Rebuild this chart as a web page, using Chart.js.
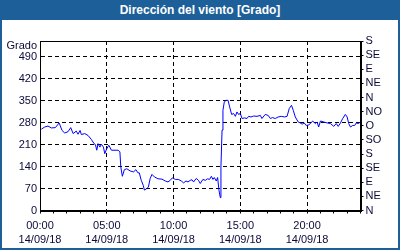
<!DOCTYPE html>
<html>
<head>
<meta charset="utf-8">
<script src="https://cdn.jsdelivr.net/npm/chart.js@4"></script>
<style>
    body { margin: 0; background: #fff; }
    #marco { position: relative; width: 400px; height: 250px; background: #fff; overflow: hidden; }
    #titulo {
        position: absolute; left: 0; top: 0; width: 400px; height: 20px;
        background: #1d5f98; color: #fff; text-align: center;
        font: bold 12px "Liberation Sans", Arial, sans-serif; line-height: 20px;
    }
    #caja { position: absolute; left: 0; top: 20px; width: 400px; height: 230px; }
    #borde {
        position: absolute; left: 0; top: 0; width: 400px; height: 250px; box-sizing: border-box;
        border: 2px solid #1d5f98; pointer-events: none;
    }
</style>
</head>
<body>
<div id="marco">
    <div id="titulo">Dirección del viento [Grado]</div>
    <div id="caja"><canvas id="graficoViento"></canvas></div>
    <div id="borde"></div>
</div>
<script>
// minutos desde las 00:00 del 14/09/18
var minutos = [6, 21, 36, 51, 69, 86, 99, 111, 126, 138, 149, 163, 171, 180, 186, 201, 216, 231, 243, 249,
    255, 261, 269, 276, 285, 291, 298, 309, 321, 351, 359, 363, 370, 379, 390, 405, 420, 431, 440, 446,
    455, 464, 469, 480, 487, 495, 503, 514, 530, 548, 563, 575, 585, 595, 608, 622, 635, 645, 656, 665,
    675, 683, 690, 702, 712, 720, 732, 743, 753, 762, 770, 777, 783, 792, 798, 804, 810, 813, 818, 822,
    828, 837, 845, 852, 861, 870, 878, 885, 892, 900, 908, 918, 930, 937, 948, 960, 975, 990, 997, 1012,
    1025, 1035, 1045, 1057, 1070, 1084, 1099, 1110, 1120, 1130, 1138, 1147, 1160, 1169, 1178, 1187, 1196, 1205, 1215, 1225,
    1237, 1245, 1252, 1260, 1275, 1290, 1305, 1320, 1331, 1340, 1350, 1360, 1372, 1380, 1387, 1395, 1405, 1414, 1421, 1430,
    1440];
var grados = [259, 266, 269, 263, 264, 279, 255, 247, 251, 264, 245, 253, 243, 255, 242, 245, 239, 226, 213, 210,
    192, 213, 202, 211, 202, 181, 194, 208, 192, 192, 187, 139, 109, 130, 133, 126, 123, 130, 120, 120,
    96, 80, 65, 70, 75, 102, 115, 107, 101, 100, 94, 91, 96, 104, 99, 99, 94, 88, 94, 91,
    96, 98, 91, 102, 96, 86, 99, 96, 101, 99, 109, 99, 105, 94, 105, 65, 41, 139, 256, 319,
    346, 351, 351, 330, 306, 309, 300, 314, 306, 309, 293, 295, 293, 300, 298, 301, 300, 303, 293, 306,
    303, 293, 296, 293, 298, 300, 298, 300, 325, 335, 319, 298, 282, 279, 275, 279, 271, 272, 277, 285,
    277, 282, 266, 285, 282, 279, 277, 268, 277, 268, 279, 293, 306, 298, 277, 266, 271, 271, 279, 277,
    282];

var horasEtiqueta = ['00:00', '05:00', '10:00', '15:00', '20:00'];
var fechaEtiqueta = '14/09/18';
var rumbos = ['N', 'NE', 'E', 'SE', 'S', 'SO', 'O', 'NO', 'N', 'NE', 'E', 'SE', 'S'];

var fuente = { family: '"Liberation Sans", Arial, sans-serif', size: 11 };
var colorTexto = '#0a0a3a';

var puntos = minutos.map(function (m, i) { return { x: m, y: grados[i] }; });

var marcoPlot = {
    id: 'marcoPlot',
    afterDraw: function (chart) {
        var a = chart.chartArea, ctx = chart.ctx;
        ctx.save();
        ctx.strokeStyle = '#000';
        ctx.lineWidth = 1;
        ctx.strokeRect(Math.round(a.left) + 0.5, Math.round(a.top) + 0.5,
            Math.round(a.right - a.left), Math.round(a.bottom - a.top));
        ctx.fillStyle = colorTexto;
        ctx.font = '11px ' + fuente.family;
        ctx.textAlign = 'right';
        ctx.textBaseline = 'middle';
        ctx.fillText('Grado', a.left - 3, a.top + 5);
        ctx.restore();
    }
};

new Chart(document.getElementById('graficoViento'), {
    type: 'line',
    data: {
        datasets: [{
            data: puntos, borderColor: '#0000ff', borderWidth: 1,
            pointRadius: 0, tension: 0, fill: false
        }]
    },
    options: {
        responsive: true, maintainAspectRatio: false, animation: false,
        layout: { padding: { top: 21, left: 0, right: 0, bottom: 0 } },
        plugins: { legend: { display: false }, tooltip: { enabled: false } },
        scales: {
            x: {
                type: 'linear', min: 0, max: 1440,
                afterFit: function (s) { s.height = 39.5; },
                ticks: {
                    stepSize: 60, autoSkip: false, maxRotation: 0, padding: 5,
                    color: colorTexto, font: { family: fuente.family, size: 11, lineHeight: '14px' },
                    callback: function (v) {
                        if (v % 300 !== 0) return '';
                        return [horasEtiqueta[v / 300], fechaEtiqueta];
                    }
                },
                grid: {
                    tickLength: 3, tickColor: '#000',
                    color: function (c) {
                        var v = c.tick ? c.tick.value : 0;
                        return (v % 300 === 0 && v > 0 && v < 1440) ? '#000' : 'rgba(0,0,0,0)';
                    }
                },
                border: { color: '#000', dash: [4, 3] }
            },
            y: {
                min: 0, max: 540,
                afterFit: function (s) { s.width = 40; },
                ticks: {
                    stepSize: 70, padding: 3, color: colorTexto, font: fuente,
                    callback: function (v) { return v > 490 ? '' : v; }
                },
                grid: {
                    drawTicks: false,
                    color: function (c) {
                        var v = c.tick ? c.tick.value : 0;
                        return (v > 0 && v < 540) ? '#000' : 'rgba(0,0,0,0)';
                    }
                },
                border: { color: '#000', dash: [4, 3] }
            },
            y2: {
                position: 'right', min: 0, max: 540,
                afterFit: function (s) { s.width = 39.5; },
                ticks: {
                    stepSize: 45, autoSkip: false, padding: 2, color: colorTexto, font: fuente,
                    callback: function (v) { return rumbos[Math.round(v / 45)]; }
                },
                grid: { drawOnChartArea: false, tickLength: 3, tickColor: '#000' },
                border: { color: '#000' }
            }
        }
    },
    plugins: [marcoPlot]
});
</script>
</body>
</html>
